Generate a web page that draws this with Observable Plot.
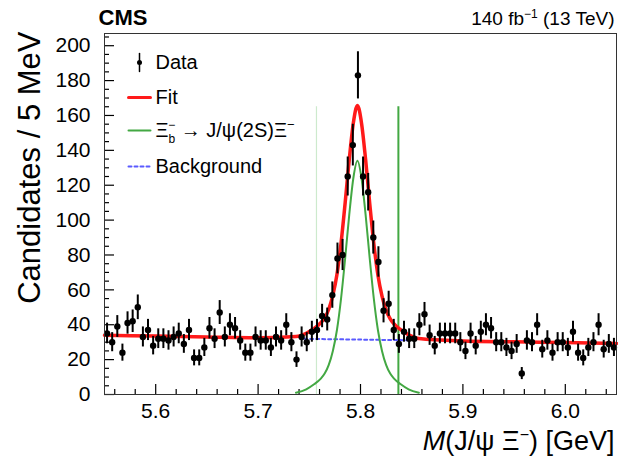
<!DOCTYPE html>
<html><head><meta charset="utf-8">
<script src="https://cdn.jsdelivr.net/npm/d3@7"></script>
<script src="https://cdn.jsdelivr.net/npm/@observablehq/plot@0.6"></script>
<style>
html,body{margin:0;padding:0;background:#fff;}
#chart svg{display:block;}
</style></head><body><div id="chart"></div>
<script>
// ---- data ----
const binStart = 5.5525;   // first bin centre (GeV)
const binWidth = 0.005;    // 5 MeV bins
const counts = [35,30,39,24,41,42,50,33,37,28, 32,32,31,33,35,29,37,21,21,27,
                38,32,47,33,40,38,31,24,24,33, 31,31,27,33,31,40,30,20,33,30,
                36,37,45,43,57,78,80,125,143,183, 125,116,90,76,48,52,37,29,36,32,
                32,40,46,34,28,35,35,35,35,30, 25,35,28,36,40,38,30,30,27,25,
                29,12,31,30,40,26,31,24,30,30, 27,36,24,21,27,30,40,26,29,27];

const fitMass  = [5.55,5.60,5.65,5.70,5.737,5.747,5.755,5.761,5.765,5.769,5.773,5.777,5.781,5.785,5.789,5.793,5.797,
                  5.801,5.805,5.809,5.813,5.817,5.821,5.825,5.829,5.833,5.839,5.847,5.857,5.90,5.95,6.00,6.05];
const fitValue = [34.0,33.5,33.0,32.5,33.2,35.1,38.0,41.0,43.9,48.9,56.9,68.8,86.8,109.8,134.7,155.7,165.7,
                  155.6,134.6,109.6,86.5,68.5,56.4,48.4,43.4,40.3,37.3,34.2,32.1,30.7,30.2,29.8,29.3];

const sigMass  = [5.737,5.747,5.755,5.761,5.765,5.769,5.773,5.777,5.781,5.785,5.789,5.793,5.797,
                  5.801,5.805,5.809,5.813,5.817,5.821,5.825,5.829,5.833,5.839,5.847,5.857];
const sigValue = [1,3,6,9,12,17,25,37,55,78,103,124,134,124,103,78,55,37,25,17,12,9,6,3,1];

const bkgMass  = [5.745, 5.85];
const bkgValue = [31.9, 31.1];

const windowMass = [5.757, 5.837];
const windowTop  = 165;

const xMajor = [5.6, 5.7, 5.8, 5.9, 6.0];
const xMinor = [5.56,5.58,5.62,5.64,5.66,5.68,5.72,5.74,5.76,5.78,5.82,5.84,5.86,5.88,5.92,5.94,5.96,5.98,6.02,6.04];
const yMajor = [0,20,40,60,80,100,120,140,160,180,200];
const yMinor = [5,10,15,25,30,35,45,50,55,65,70,75,85,90,95,105,110,115,125,130,135,145,150,155,165,170,175,185,190,195,205];

// ---- tables ----
const hist = counts.map((n, i) => ({x: binStart + binWidth * i, y: n, e: Math.sqrt(n)}));
const fit = fitMass.map((x, i) => ({x, y: fitValue[i]}));
const sig = sigMass.map((x, i) => ({x, y: sigValue[i]}));
const bkg = bkgMass.map((x, i) => ({x, y: bkgValue[i]}));

const FONT = "'Liberation Sans', Arial, Helvetica, sans-serif";
const RED = "#ff1a1a", GREEN = "#43a843", BLUE = "#5a5aff";
const lineShape = {draw(ctx, l) { ctx.moveTo(0, 0); ctx.lineTo(0, -l); }};

const chart = Plot.plot({
  width: 618, height: 460,
  marginTop: 33, marginBottom: 66, marginLeft: 104, marginRight: 2,
  style: {fontFamily: FONT, background: "white", color: "black", overflow: "visible"},
  x: {domain: [5.55, 6.05]},
  y: {domain: [0, 207]},
  marks: [
    // axes: inward ticks + labels
    Plot.axisX({ticks: xMajor, tickSize: -10, tickFormat: () => "", label: null, strokeWidth: 1.2}),
    Plot.axisX({ticks: xMinor, tickSize: -5, tickFormat: () => "", label: null, strokeWidth: 1.2}),
    Plot.axisX({ticks: xMajor, tickSize: 0, tickPadding: 9, fontSize: 21, tickFormat: d3.format(".1f"), label: null}),
    Plot.axisY({ticks: yMajor, tickSize: -10, tickFormat: () => "", label: null, strokeWidth: 1.2}),
    Plot.axisY({ticks: yMinor, tickSize: -5, tickFormat: () => "", label: null, strokeWidth: 1.2}),
    Plot.axisY({ticks: yMajor, tickSize: 0, tickPadding: 14, fontSize: 21, label: null}),

    // signal window lines
    Plot.ruleX([windowMass[0]], {y1: 0, y2: windowTop, stroke: "#cdeacd", strokeWidth: 1.2}),
    Plot.ruleX([windowMass[1]], {y1: 0, y2: windowTop, stroke: GREEN, strokeWidth: 2}),

    // curves
    Plot.line(bkg, {x: "x", y: "y", stroke: BLUE, strokeWidth: 2, strokeDasharray: "3,3"}),
    Plot.line(sig, {x: "x", y: "y", stroke: GREEN, strokeWidth: 2, curve: "monotone-x"}),
    Plot.line(fit, {x: "x", y: "y", stroke: RED, strokeWidth: 3.5, curve: "monotone-x"}),

    // data
    Plot.ruleX(hist, {x: "x", y1: d => d.y - d.e, y2: d => d.y + d.e, stroke: "black", strokeWidth: 2}),
    Plot.dot(hist, {x: "x", y: "y", r: 3.2, fill: "black", stroke: null}),

    Plot.frame({stroke: "#333", strokeWidth: 1}),

    // legend
    Plot.vector([0], {frameAnchor: "top-left", dx: 35, dy: 29, length: 18, anchor: "middle", shape: lineShape, stroke: "black", strokeWidth: 1.5}),
    Plot.dot([0], {frameAnchor: "top-left", dx: 35, dy: 29, r: 2.5, fill: "black", stroke: null}),
    Plot.vector([0], {frameAnchor: "top-left", dx: 24, dy: 64, length: 22, rotate: 90, anchor: "start", shape: lineShape, stroke: RED, strokeWidth: 3}),
    Plot.vector([0], {frameAnchor: "top-left", dx: 24, dy: 97, length: 22, rotate: 90, anchor: "start", shape: lineShape, stroke: GREEN, strokeWidth: 2}),
    Plot.vector([0], {frameAnchor: "top-left", dx: 24, dy: 133, length: 22, rotate: 90, anchor: "start", shape: lineShape, stroke: BLUE, strokeWidth: 2, strokeDasharray: "3,3"}),
    Plot.text(["Data"], {frameAnchor: "top-left", dx: 51, dy: 29, textAnchor: "start", lineAnchor: "middle", fontSize: 20}),
    Plot.text(["Fit"], {frameAnchor: "top-left", dx: 51, dy: 64, textAnchor: "start", lineAnchor: "middle", fontSize: 20}),
    Plot.text(["Ξb− → J/ψ(2S)Ξ−"], {frameAnchor: "top-left", dx: 51, dy: 97, textAnchor: "start", lineAnchor: "middle", fontSize: 20, className: "lg-sig"}),
    Plot.text(["Background"], {frameAnchor: "top-left", dx: 51, dy: 133, textAnchor: "start", lineAnchor: "middle", fontSize: 20}),

    // titles
    Plot.text(["CMS"], {frameAnchor: "top-left", dx: -6, dy: -9, textAnchor: "start", lineAnchor: "bottom", fontSize: 22, fontWeight: "bold"}),
    Plot.text(["140 fb−1 (13 TeV)"], {frameAnchor: "top-right", dx: -2, dy: -9, textAnchor: "end", lineAnchor: "bottom", fontSize: 19, className: "lumi"}),
    Plot.text(["Candidates / 5 MeV"], {frameAnchor: "top-left", dx: -74, dy: -2, rotate: -90, textAnchor: "end", lineAnchor: "middle", fontSize: 31}),
    Plot.text(["M(J/ψ Ξ−) [GeV]"], {frameAnchor: "bottom-right", dx: -2, dy: 55, textAnchor: "end", lineAnchor: "bottom", fontSize: 27, className: "xlab"})
  ]
});

document.getElementById("chart").appendChild(chart);

// rich text (sub/superscripts) as tspans
function rich(cls, parts) {
  const t = d3.select(chart).select(`g.${cls} text`);
  if (t.empty()) return;
  t.text(null);
  let cur = 0;
  for (const p of parts) {
    const ts = t.append("tspan").text(p.t);
    const off = p.off || 0;
    if (off - cur) ts.attr("dy", off - cur);
    cur = off;
    if (p.dx) ts.attr("dx", p.dx);
    if (p.size) ts.attr("font-size", p.size);
    if (p.style) ts.attr("font-style", p.style);
  }
}
rich("lg-sig", [{t: "Ξ"}, {t: "b", off: 6, size: 12}, {t: "−", off: -8, dx: -7, size: 12}, {t: " → J/ψ(2S)Ξ"}, {t: "−", off: -8, size: 13}]);
rich("lumi", [{t: "140 fb"}, {t: "−1", off: -7, size: 12}, {t: " (13 TeV)"}]);
rich("xlab", [{t: "M", style: "italic"}, {t: "(J/ψ Ξ"}, {t: "−", off: -10, size: 16}, {t: ") [GeV]"}]);
</script>
</body></html>
